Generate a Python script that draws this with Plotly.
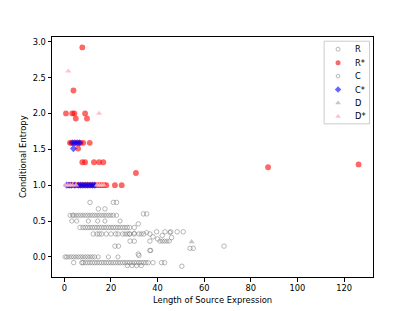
import plotly.graph_objects as go

# ---------------- data ----------------
# R (gray open circles)
R_x = [4, 7.5, 8, 9, 10, 11, 12, 13, 14, 15, 16, 17, 18, 19, 20, 21, 22, 23, 24, 25, 26, 27, 28, 29, 30, 31, 32, 33, 34, 35, 36, 38, 41.7, 43,
       27, 29, 31, 33,
       6.7, 8, 9, 10, 11, 12, 13, 14, 15, 16, 17, 18, 19, 20, 21, 22, 23, 24, 25, 26, 27, 28, 30,
       12.4, 14, 15, 16, 18, 20, 22, 23, 25, 27, 28, 30, 32, 34, 36.7, 39.6, 43.2, 45.6, 48.4, 51,
       11, 21, 22.4, 14.6, 17.4, 33.9, 35.3, 31.7, 28.2, 30, 36.7, 36.7, 31.7, 21.7, 23.2, 53.9, 55.3, 50.4, 68.5, 37, 32, 38, 40, 42, 46]
R_y = [-0.08] * 34 + [-0.12] * 4 + [0.41] * 23 + [0.32] * 15 + [0.35] * 5 + \
      [0.76, 0.76, 0.76, 0.67, 0.67, 0.6, 0.6, 0.46, 0.22, 0.22, 0.22, 0.09, 0.04, 0.15, 0.15, 0.12, 0.12, -0.13, 0.15, 0.09, 0.02, 0.28, 0.25, 0.3, 0.27]

# R* (red filled circles)
Rs_x = [7.7, 3.9, 0.7, 3.4, 4.3, 8.9, 4.9, 9.7,
        2.4, 3, 4.5, 6, 7, 8.1, 10.9, 5.9,
        7.7, 8.9, 12.7, 14.9, 16.7,
        30.7,
        2, 3, 4, 5, 6, 7, 8, 9, 10, 11, 12, 13, 14, 15, 16, 17, 18, 21.7, 24.6,
        87.4, 126.2]
Rs_y = [2.92, 2.32, 2.0, 2.0, 2.0, 2.0, 1.93, 1.93,
        1.59, 1.59, 1.59, 1.59, 1.59, 1.59, 1.59, 1.51,
        1.32, 1.32, 1.32, 1.32, 1.32,
        1.17,
        1.0, 1.0, 1.0, 1.0, 1.0, 1.0, 1.0, 1.0, 1.0, 1.0, 1.0, 1.0, 1.0, 1.0, 1.0, 1.0, 1.0, 1.0, 1.0,
        1.25, 1.29]

# C (gray open hexagons)
C_x = [0.3, 1, 2, 3, 4, 5, 6, 7, 8, 9, 10, 11, 12, 13, 14.5, 18.9, 23,
       2.4, 3.5, 4, 5, 6, 7, 8, 9, 10, 11, 12, 13, 14, 15, 16, 17, 18, 19, 20, 21, 22.4,
       3.2, 5.3, 10.3, 14.3, 17.4, 23.9,
       41, 42, 43, 44, 45,
       26, 28, 30, 33, 35.3, 45.3]
C_y = [0.0] * 17 + [0.58] * 21 + [0.5] * 6 + [0.22] * 5 + [0.32, 0.32, 0.33, 0.32, 0.34, 0.34]

# C* (blue filled diamonds)
Cs_x = [1, 2, 3, 4.5, 6, 7, 8, 9, 10, 11, 12, 13, 3.5, 4.5, 5.5, 6.5, 3.9]
Cs_y = [1.0] * 12 + [1.59] * 4 + [1.51]

# D (gray triangles)
D_x = [54.6]
D_y = [0.21]

# D* (pink triangles)
Ds_x = [1.7, 14.9, 0.5, 1.5, 2.5, 3.5, 5, 14, 15, 16, 17]
Ds_y = [2.59, 2.0, 1.0, 1.0, 1.0, 1.0, 1.0, 1.0, 1.0, 1.0, 1.0]

series_names = ["R", "R*", "C", "C*", "D", "D*"]
x_ticks = [0, 20, 40, 60, 80, 100, 120]
y_ticks = [0, 0.5, 1, 1.5, 2, 2.5, 3]
y_tick_labels = ["0.0", "0.5", "1.0", "1.5", "2.0", "2.5", "3.0"]
x_title = "Length of Source Expression"
y_title = "Conditional Entropy"

# ---------------- figure ----------------
fig = go.Figure()

styles = [
    dict(symbol="circle-open", size=4.5, color="rgba(120,120,120,0.65)", line=dict(width=0.8)),
    dict(symbol="circle", size=5.8, color="rgba(255,0,0,0.6)", line=dict(width=0)),
    dict(symbol="hexagon-open", size=4.5, color="rgba(120,120,120,0.65)", line=dict(width=0.8)),
    dict(symbol="diamond", size=5.5, color="rgba(0,0,255,0.6)", line=dict(width=0)),
    dict(symbol="triangle-up", size=5.5, color="rgba(128,128,128,0.45)", line=dict(width=0)),
    dict(symbol="triangle-up", size=5.5, color="rgba(255,182,193,0.85)", line=dict(width=0)),
]
legend_sizes = [4, 5, 4, 5, 5, 5]
data = [(R_x, R_y), (Rs_x, Rs_y), (C_x, C_y), (Cs_x, Cs_y), (D_x, D_y), (Ds_x, Ds_y)]
for name, (xs, ys), mk in zip(series_names, data, styles):
    fig.add_trace(go.Scatter(x=xs, y=ys, mode="markers", name=name, marker=mk, showlegend=False))

# ---- custom legend on an overlay axis measured in pixels ----
L, R_, T, B = 52, 373.5, 37.3, 276.8
leg_left, leg_right, leg_top, leg_bot = 324.5, 370, 41.5, 124
fig.add_shape(type="rect", xref="x2", yref="y2", x0=leg_left, x1=leg_right, y0=leg_top, y1=leg_bot,
              line=dict(color="#cccccc", width=1), fillcolor="rgba(255,255,255,0.8)", layer="below")
row_y = [49.5, 63, 76.4, 89.8, 103.2, 116.6]
for name, mk, yy, ls in zip(series_names, styles, row_y, legend_sizes):
    lm = dict(mk)
    lm["size"] = ls
    fig.add_trace(go.Scatter(x=[338.5], y=[yy], xaxis="x2", yaxis="y2", mode="markers",
                             marker=lm, showlegend=False, hoverinfo="skip"))
    fig.add_annotation(x=353, y=yy, xref="x2", yref="y2", text=name, showarrow=False,
                       xanchor="left", yanchor="middle", font=dict(size=8.3, color="black"))

# axis titles
fig.add_annotation(x=0.5, y=0, xref="paper", yref="paper", text=x_title, showarrow=False,
                   xanchor="center", yanchor="middle", yshift=-(299.5 - B),
                   font=dict(size=8.4, color="black"))
fig.add_annotation(x=0, y=0.5, xref="paper", yref="paper", text=y_title, showarrow=False,
                   xanchor="center", yanchor="middle", xshift=-(L - 23), textangle=-90,
                   font=dict(size=8.4, color="black"))

axis_common = dict(
    showgrid=False, zeroline=False, showline=True, linecolor="black", linewidth=1,
    mirror=True, ticks="outside", ticklen=3.5, tickwidth=0.8, tickcolor="black",
    tickfont=dict(size=8.3, color="black"), automargin=False,
)

fig.update_layout(
    width=415, height=311,
    margin=dict(l=L, r=415 - R_, t=T, b=311 - B, autoexpand=False),
    paper_bgcolor="white", plot_bgcolor="white",
    font=dict(family="DejaVu Sans", size=8.3, color="black"),
    showlegend=False,
    xaxis=dict(range=[-5.3, 132.4], tickmode="array", tickvals=x_ticks, **axis_common),
    yaxis=dict(range=[-0.28, 3.066], tickmode="array", tickvals=y_ticks, ticktext=y_tick_labels,
               **axis_common),
    xaxis2=dict(overlaying="x", range=[L, R_], visible=False, fixedrange=True),
    yaxis2=dict(overlaying="y", range=[B, T], visible=False, fixedrange=True),
)

fig.write_html("out.html", config={"displayModeBar": False},
               post_script="document.body.style.margin='0px';")
